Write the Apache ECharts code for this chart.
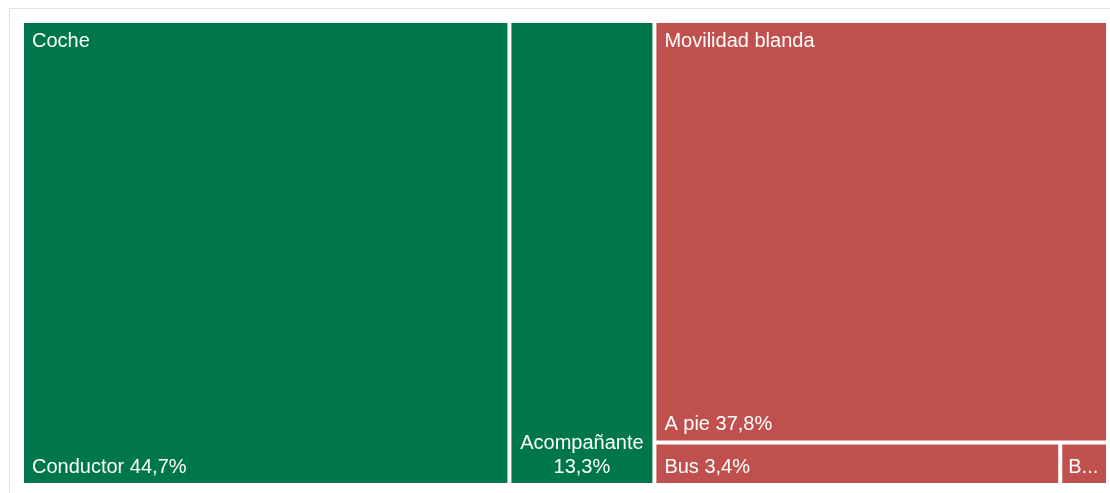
<!DOCTYPE html>
<html>
<head>
<meta charset="utf-8">
<script src="https://cdn.jsdelivr.net/npm/echarts@6/dist/echarts.min.js"></script>
<style>
  html, body { margin: 0; padding: 0; background: #fff; }
  #wrap { position: relative; width: 1110px; height: 493px; overflow: hidden; }
  #frame { position: absolute; left: 9px; top: 8px; width: 1200px; height: 600px; border: 1px solid #e4e4e4; }
  #chart { position: absolute; left: 0; top: 0; width: 1110px; height: 493px; }
</style>
</head>
<body>
<div id="wrap">
  <div id="frame"></div>
  <div id="chart"></div>
</div>
<script>
// groups and modes of transport (share in %)
var groups = ['Coche', 'Movilidad blanda'];
var groupColors = ['#00774A', '#C0504D'];
var modes = ['Conductor', 'Acompañante', 'A pie', 'Bus', 'Bicicleta'];
var modeGroup = [0, 0, 1, 1, 1];
var shares = [44.7, 13.3, 37.8, 3.4, 0.4];

var FONT = 'Arial, "Liberation Sans", sans-serif';
var CLEAR = 'rgba(0,0,0,0)';

function fmt(v) {
    return v.toFixed(1).replace('.', ',') + '%';
}

// same tree twice: once for the coloured rects with bottom labels,
// once transparent, only to put the group name in the top-left corner
function buildTree(withGroupLabel) {
    var tree = [];
    for (var g = 0; g < groups.length; g++) {
        var children = [];
        var first = true;
        for (var i = 0; i < modes.length; i++) {
            if (modeGroup[i] !== g) continue;
            var item = { name: modes[i], value: shares[i] };
            if (withGroupLabel) {
                item.itemStyle = { color: CLEAR, borderColor: CLEAR };
                item.label = first
                    ? { show: true, formatter: groups[g] }
                    : { show: false };
            } else if (modes[i] === 'Acompañante') {
                item.label = {
                    position: 'insideBottom',
                    align: 'center',
                    overflow: 'none',
                    padding: [0, 2, 4, 2],
                    formatter: function (p) { return p.name + '\n' + fmt(p.value); }
                };
            } else if (shares[i] < 1) {
                // box too narrow: only the first letter fits
                item.label = {
                    overflow: 'none',
                    padding: [0, 0, 4, 6],
                    formatter: function (p) { return p.name.charAt(0) + '...'; }
                };
            }
            children.push(item);
            first = false;
        }
        var node = { name: groups[g], children: children };
        node.itemStyle = withGroupLabel
            ? { color: CLEAR, borderColor: CLEAR }
            : { color: groupColors[g] };
        tree.push(node);
    }
    return tree;
}

function levels(border) {
    return [
        { itemStyle: { borderWidth: 0, gapWidth: 4, borderColor: border } },
        { itemStyle: { borderWidth: 0, gapWidth: 4, borderColor: border } },
        { itemStyle: { borderWidth: 0, gapWidth: 0, borderColor: border } }
    ];
}

function baseSeries() {
    return {
        type: 'treemap',
        left: 24,
        top: 23,
        right: 4,
        bottom: 10,
        roam: false,
        nodeClick: false,
        breadcrumb: { show: false },
        animation: false
    };
}

var seriesMain = Object.assign(baseSeries(), {
    name: 'modos',
    data: buildTree(false),
    levels: levels('#fff'),
    label: {
        show: true,
        position: 'insideBottomLeft',
        color: '#fff',
        fontFamily: FONT,
        fontSize: 20,
        lineHeight: 24,
        padding: [0, 4, 4, 8],
        overflow: 'truncate',
        ellipsis: '...',
        formatter: function (p) { return p.name + ' ' + fmt(p.value); }
    }
});

var seriesGroups = Object.assign(baseSeries(), {
    name: 'grupos',
    silent: true,
    z: 5,
    data: buildTree(true),
    levels: levels(CLEAR),
    itemStyle: { color: CLEAR, borderColor: CLEAR },
    label: {
        show: true,
        position: 'insideTopLeft',
        color: '#fff',
        fontFamily: FONT,
        fontSize: 20,
        lineHeight: 24,
        padding: [6, 8, 0, 8]
    }
});

var myChart = echarts.init(document.getElementById('chart'));
myChart.setOption({ series: [seriesMain, seriesGroups] });
</script>
</body>
</html>
